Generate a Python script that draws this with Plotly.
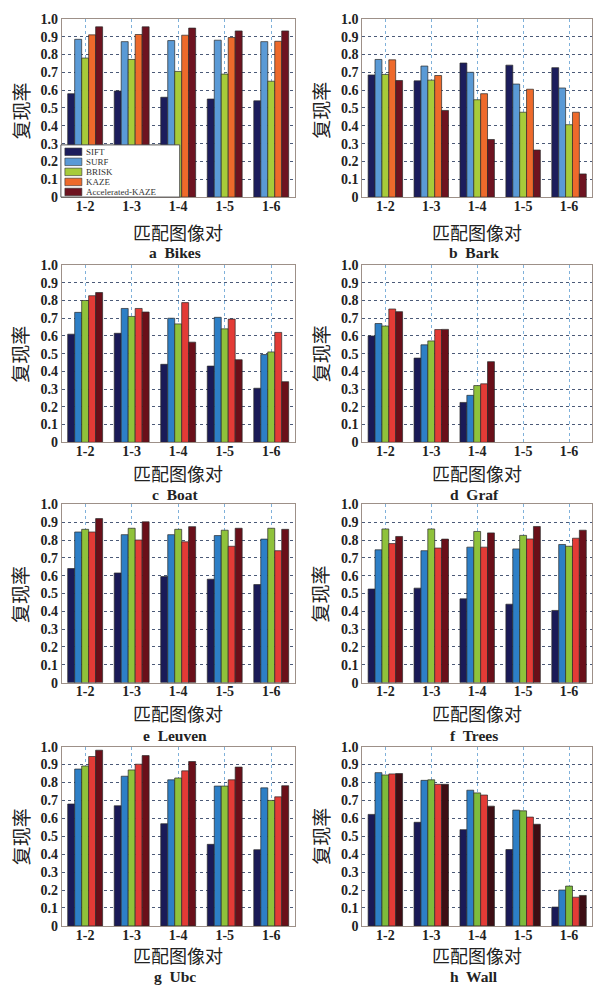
import plotly.graph_objects as go
from plotly.subplots import make_subplots

# ---------------- data ----------------
pairs = ["1-2", "1-3", "1-4", "1-5", "1-6"]
methods = ["SIFT", "SURF", "BRISK", "KAZE", "Accelerated-KAZE"]
y_tick_vals = [0, 0.1, 0.2, 0.3, 0.4, 0.5, 0.6, 0.7, 0.8, 0.9, 1.0]
y_tick_text = ["0", "0.1", "0.2", "0.3", "0.4", "0.5", "0.6", "0.7", "0.8", "0.9", "1.0"]
panel_labels = ["a  Bikes", "b  Bark", "c  Boat", "d  Graf",
                "e  Leuven", "f  Trees", "g  Ubc", "h  Wall"]
y_title = "复现率"
x_title = "匹配图像对"

# rows: SIFT, SURF, BRISK, KAZE, Accelerated-KAZE ; columns: pairs
bikes = [[0.58, 0.595, 0.56, 0.55, 0.54],
         [0.885, 0.872, 0.878, 0.88, 0.872],
         [0.78, 0.772, 0.705, 0.69, 0.65],
         [0.91, 0.912, 0.908, 0.895, 0.874],
         [0.955, 0.955, 0.948, 0.932, 0.932]]
bark = [[0.685, 0.652, 0.752, 0.74, 0.726],
        [0.772, 0.735, 0.70, 0.634, 0.612],
        [0.688, 0.656, 0.546, 0.476, 0.406],
        [0.77, 0.682, 0.58, 0.605, 0.476],
        [0.654, 0.486, 0.323, 0.264, 0.13]]
boat = [[0.61, 0.615, 0.44, 0.43, 0.305],
        [0.733, 0.755, 0.70, 0.705, 0.495],
        [0.80, 0.71, 0.668, 0.64, 0.51],
        [0.827, 0.755, 0.788, 0.695, 0.62],
        [0.845, 0.735, 0.565, 0.466, 0.342]]
graf = [[0.60, 0.475, 0.225, None, None],
        [0.67, 0.55, 0.265, None, None],
        [0.656, 0.572, 0.32, None, None],
        [0.752, 0.636, 0.33, None, None],
        [0.737, 0.637, 0.455, None, None]]
leuven = [[0.64, 0.615, 0.595, 0.58, 0.55],
          [0.845, 0.83, 0.83, 0.825, 0.805],
          [0.86, 0.866, 0.86, 0.855, 0.866],
          [0.845, 0.80, 0.79, 0.765, 0.74],
          [0.92, 0.902, 0.875, 0.866, 0.86]]
trees = [[0.525, 0.53, 0.47, 0.44, 0.405],
         [0.745, 0.74, 0.76, 0.75, 0.775],
         [0.862, 0.862, 0.848, 0.826, 0.765],
         [0.78, 0.755, 0.76, 0.806, 0.81],
         [0.82, 0.805, 0.84, 0.876, 0.855]]
ubc = [[0.68, 0.67, 0.57, 0.455, 0.425],
       [0.875, 0.835, 0.815, 0.78, 0.77],
       [0.892, 0.87, 0.825, 0.78, 0.70],
       [0.945, 0.902, 0.865, 0.815, 0.72],
       [0.98, 0.95, 0.917, 0.886, 0.782]]
wall = [[0.622, 0.578, 0.537, 0.426, 0.105],
        [0.855, 0.812, 0.757, 0.646, 0.20],
        [0.842, 0.815, 0.742, 0.642, 0.222],
        [0.848, 0.79, 0.73, 0.607, 0.16],
        [0.85, 0.79, 0.668, 0.567, 0.17]]
panels = [bikes, bark, boat, graf, leuven, trees, ubc, wall]

# ---------------- styles ----------------
pal_ab = ["#1c1d5c", "#5a9ad6", "#a7cb3a", "#ee6a2b", "#6e1320"]
pal_cg = ["#1a1a57", "#2d7fc6", "#8fc23b", "#e33b36", "#6a0f19"]
pal_h = ["#1a1a57", "#2d7fc6", "#7dbb3c", "#e33b36", "#3e0e14"]
palettes = [pal_ab, pal_ab, pal_cg, pal_cg, pal_cg, pal_cg, pal_cg, pal_h]

W, H = 593, 992
col_px = [(62, 295), (363, 593)]
row_px = [(12, 193), (262, 442), (505, 686), (751, 933)]
xtitle_y = [228, 473, 717, 963]
label_y = [249, 495, 740, 984]
ytitle_x = [20, 321]
ytitle_y = [105, 352, 596, 842]

serif = "Liberation Serif"
cjk = "Noto Sans CJK SC"

fig = make_subplots(rows=4, cols=2)

for i, data in enumerate(panels):
    r, c = i // 2 + 1, i % 2 + 1
    for k, name in enumerate(methods):
        fig.add_trace(go.Bar(
            x=pairs, y=data[k], name=name, showlegend=False,
            marker=dict(color=palettes[i][k], line=dict(color="#2a2a2a", width=0.7)),
        ), row=r, col=c)

for i in range(8):
    r, c = i // 2, i % 2
    x0, x1 = col_px[c]
    t, b = row_px[r]
    xa = "xaxis" if i == 0 else f"xaxis{i+1}"
    ya = "yaxis" if i == 0 else f"yaxis{i+1}"
    fig.layout[xa].update(
        domain=[x0 / W, min(x1 / W, 1.0)],
        showgrid=True, gridcolor="#7fb1da", griddash="dot", gridwidth=1,
        showline=True, mirror=True, linecolor="#9d9088", linewidth=1,
        ticks="", tickfont=dict(family=serif, size=14, color="#222"),
        tickvals=pairs, ticktext=["<b>" + p + "</b>" for p in pairs],
        ticklabelstandoff=-4,
        categoryorder="array", categoryarray=pairs, range=[-0.5, 4.5],
    )
    fig.layout[ya].update(
        domain=[1 - b / H, 1 - t / H], range=[0, 1.0],
        tickvals=y_tick_vals, ticktext=["<b>" + s + "</b>" for s in y_tick_text],
        showgrid=True, gridcolor="#4b5a78", griddash="dot", gridwidth=1,
        showline=True, mirror=True, linecolor="#9d9088", linewidth=1,
        ticks="", zeroline=False,
        tickfont=dict(family=serif, size=14, color="#222"),
    )
    xc = (x0 + x1) / 2 / W
    fig.add_annotation(text=x_title, x=xc, y=1 - xtitle_y[r] / H, xref="paper", yref="paper",
                       showarrow=False, font=dict(family=cjk, size=18, color="#222"),
                       xanchor="center", yanchor="middle")
    fig.add_annotation(text="<b>" + panel_labels[i] + "</b>", x=xc - 3 / W, y=1 - label_y[r] / H,
                       xref="paper", yref="paper", showarrow=False,
                       font=dict(family=serif, size=15.5, color="#222"),
                       xanchor="center", yanchor="middle")
    fig.add_annotation(text=y_title, x=ytitle_x[c] / W, y=1 - ytitle_y[r] / H,
                       xref="paper", yref="paper", showarrow=False, textangle=-90,
                       font=dict(family=cjk, size=19, color="#222"),
                       xanchor="center", yanchor="middle")

# ---------------- compact legend inside panel a ----------------
lg_x0, lg_x1, lg_top, lg_bot = 61, 180, 140, 193
fig.add_shape(type="rect", xref="paper", yref="paper",
              x0=lg_x0 / W, x1=lg_x1 / W, y0=1 - lg_bot / H, y1=1 - lg_top / H,
              fillcolor="white", line=dict(color="#555", width=1), layer="above")
for k, name in enumerate(methods):
    yc = 147 + k * 10.2
    fig.add_shape(type="rect", xref="paper", yref="paper",
                  x0=65 / W, x1=82 / W, y0=1 - (yc + 3.8) / H, y1=1 - (yc - 3.8) / H,
                  fillcolor=pal_ab[k], line=dict(color="#333", width=0.6), layer="above")
    fig.add_annotation(text=name, x=84 / W, y=1 - yc / H, xref="paper", yref="paper",
                       showarrow=False, xanchor="left", yanchor="middle", height=10,
                       font=dict(family=serif, size=9, color="#333"))

fig.update_layout(
    width=W, height=H, barmode="group", bargap=0.25, bargroupgap=0,
    margin=dict(l=0, r=0, t=0, b=0),
    paper_bgcolor="white", plot_bgcolor="white", showlegend=False,
)

fig.write_html(
    "out.html",
    config={"displayModeBar": False},
    post_script="document.body.style.margin='0';document.body.style.overflow='hidden';",
)
